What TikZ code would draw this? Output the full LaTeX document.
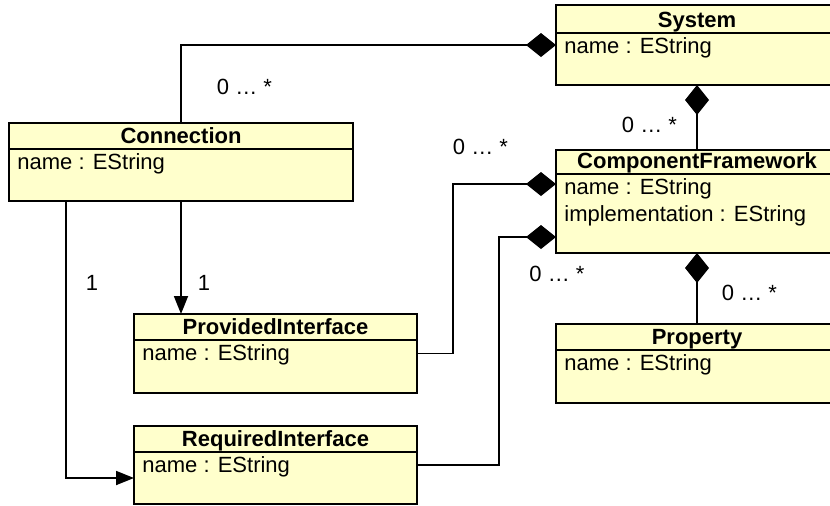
\documentclass[tikz,border=0pt]{standalone}
\usepackage{fontspec}
\setmainfont{Liberation Sans}
\usetikzlibrary{arrows.meta,fit}
\definecolor{classfill}{HTML}{FFFFCC}
\tikzset{
  cls/.style={draw=black, fill=classfill, line width=0.9pt, rectangle, inner sep=0pt, outer sep=0pt},
  ttl/.style={font=\fontsize{11}{13}\selectfont\bfseries, anchor=base, inner sep=0pt},
  attr/.style={anchor=base west, inner sep=0pt},
  lbl/.style={anchor=base, inner sep=0pt},
  divl/.style={line width=0.9pt},
  link/.style={line width=0.9pt},
  comp/.style={link, -{Diamond[length=15pt,width=12pt]}},
  nav/.style={link, -{Triangle[length=9pt,width=7pt]}}
}
\newcommand\umlclass[8]{%
  \node[cls, fit={(#2,#3) (#4,#5)}] (#1) {};
  \coordinate (#1-d) at (#2,#6);
  \draw[divl] (#1-d) -- (#1-d -| #1.east);
  \node[ttl] (#1-t) at ({(#2+#4)/2},{#6-6}) {#7};
  \node[attr] (#1-a) at ({#2+8},{#6+20}) {#8};
}
\begin{document}
\begin{tikzpicture}[x=0.5pt, y=-0.5pt, font=\fontsize{11}{13}\selectfont]
\useasboundingbox (0,0) rectangle (830,505);
% classes
\umlclass{sys}{556}{5}{838}{85}{33}{System}{name : EString}
\umlclass{conn}{9}{123}{353}{201}{149}{Connection}{name : EString}
\umlclass{cf}{556}{150}{838}{253}{174}{ComponentFramework}{name : EString}
\node[attr] (cf-b) at (564,221) {implementation : EString};
\umlclass{pi}{134}{314}{417}{393}{340}{ProvidedInterface}{name : EString}
\umlclass{ri}{134}{426}{417}{504}{452}{RequiredInterface}{name : EString}
\umlclass{prop}{556}{324}{838}{403}{350}{Property}{name : EString}
% helper coordinates
\coordinate (xp) at (453,0);
\coordinate (xr) at (499,0);
\coordinate (xl) at (66,0);
\coordinate (cfp) at ([yshift=-17pt]cf.north west);
\coordinate (cfr) at ([yshift=-43.5pt]cf.north west);
\coordinate (rin) at ([yshift=-6.5pt]ri.west);
% connectors
\draw[comp] (conn.north) |- (sys.west);
\draw[comp] (cf.north) -- (sys.south);
\draw[comp] (prop.north) -- (cf.south);
\draw[comp] (pi.east) -| (xp |- cfp) -- (cfp);
\draw[comp] (ri.east) -| (xr |- cfr) -- (cfr);
\draw[nav] (conn.south) -- (conn.south |- pi.north);
\draw[nav] (conn.south -| xl) |- (rin);
% multiplicities
\node[lbl] (m1) at (244.5,94.5) {0 … *};
\node[lbl] (m2) at (649.5,132.5) {0 … *};
\node[lbl] (m3) at (480.5,154.5) {0 … *};
\node[lbl] (m4) at (557,281) {0 … *};
\node[lbl] (m5) at (749.5,300.5) {0 … *};
\node[lbl] (m6) at (92,290.5) {1};
\node[lbl] (m7) at (204,290.5) {1};
\end{tikzpicture}
\end{document}
